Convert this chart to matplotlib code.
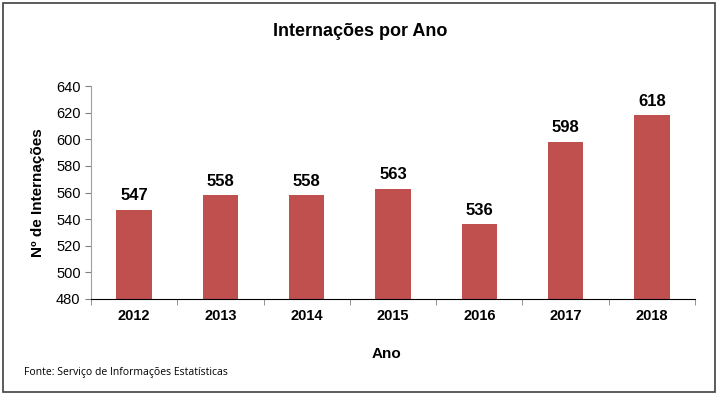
import matplotlib.pyplot as plt
from matplotlib.patches import Rectangle

plt.rcParams['font.family'] = ['Liberation Sans', 'DejaVu Sans']

anos = ['2012', '2013', '2014', '2015', '2016', '2017', '2018']
internacoes = [547, 558, 558, 563, 536, 598, 618]
y_ticks = [480, 500, 520, 540, 560, 580, 600, 620, 640]

fig = plt.figure(figsize=(7.21, 3.97), dpi=100)
ax = fig.add_axes([91 / 721, 1 - 299 / 397, (695 - 91) / 721, (299 - 86) / 397])

x = range(len(anos))
bars = ax.bar(x, internacoes, width=0.41, color='#C0504D', zorder=2)
for b, v in zip(bars, internacoes):
    ax.text(b.get_x() + b.get_width() / 2, v + 5, str(v), ha='center', va='bottom',
            fontsize=12, fontweight='bold')

ax.set_xlim(-0.5, len(anos) - 0.5)
ax.set_ylim(480, 640)
ax.set_yticks(y_ticks)
ax.set_yticklabels([str(t) for t in y_ticks], fontsize=10.5)
ax.set_xticks(list(x))
ax.set_xticklabels(anos, fontsize=10.5, fontweight='bold')
ax.tick_params(axis='x', length=0, pad=7)
ax.set_xticks([i + 0.5 for i in range(-1, len(anos))], minor=True)
ax.tick_params(axis='x', which='minor', length=4, color='#808080', direction='out')
ax.tick_params(axis='y', length=4, color='#808080', direction='out')

for s in ['top', 'right']:
    ax.spines[s].set_visible(False)
ax.spines['left'].set_color('#A0A0A0')
ax.spines['bottom'].set_color('#000000')

ax.set_ylabel('Nº de Internações', fontsize=11, fontweight='bold', labelpad=8)
fig.text(386 / 721, 1 - 354 / 397, 'Ano', ha='center', va='center', fontsize=11, fontweight='bold')
fig.text(360 / 721, 1 - 32 / 397, 'Internações por Ano', ha='center', va='center', fontsize=13, fontweight='bold')
fig.text(24 / 721, 1 - 373 / 397, 'Fonte: Serviço de Informações Estatísticas', ha='left', va='center',
         fontsize=7.5, family=['Open Sans', 'DejaVu Sans'])

fig.add_artist(Rectangle((3 / 721, 5 / 397), 712 / 721, 389 / 397, transform=fig.transFigure,
                         fill=False, edgecolor='#404040', linewidth=1.2))

fig.savefig('out.png', dpi=100)
